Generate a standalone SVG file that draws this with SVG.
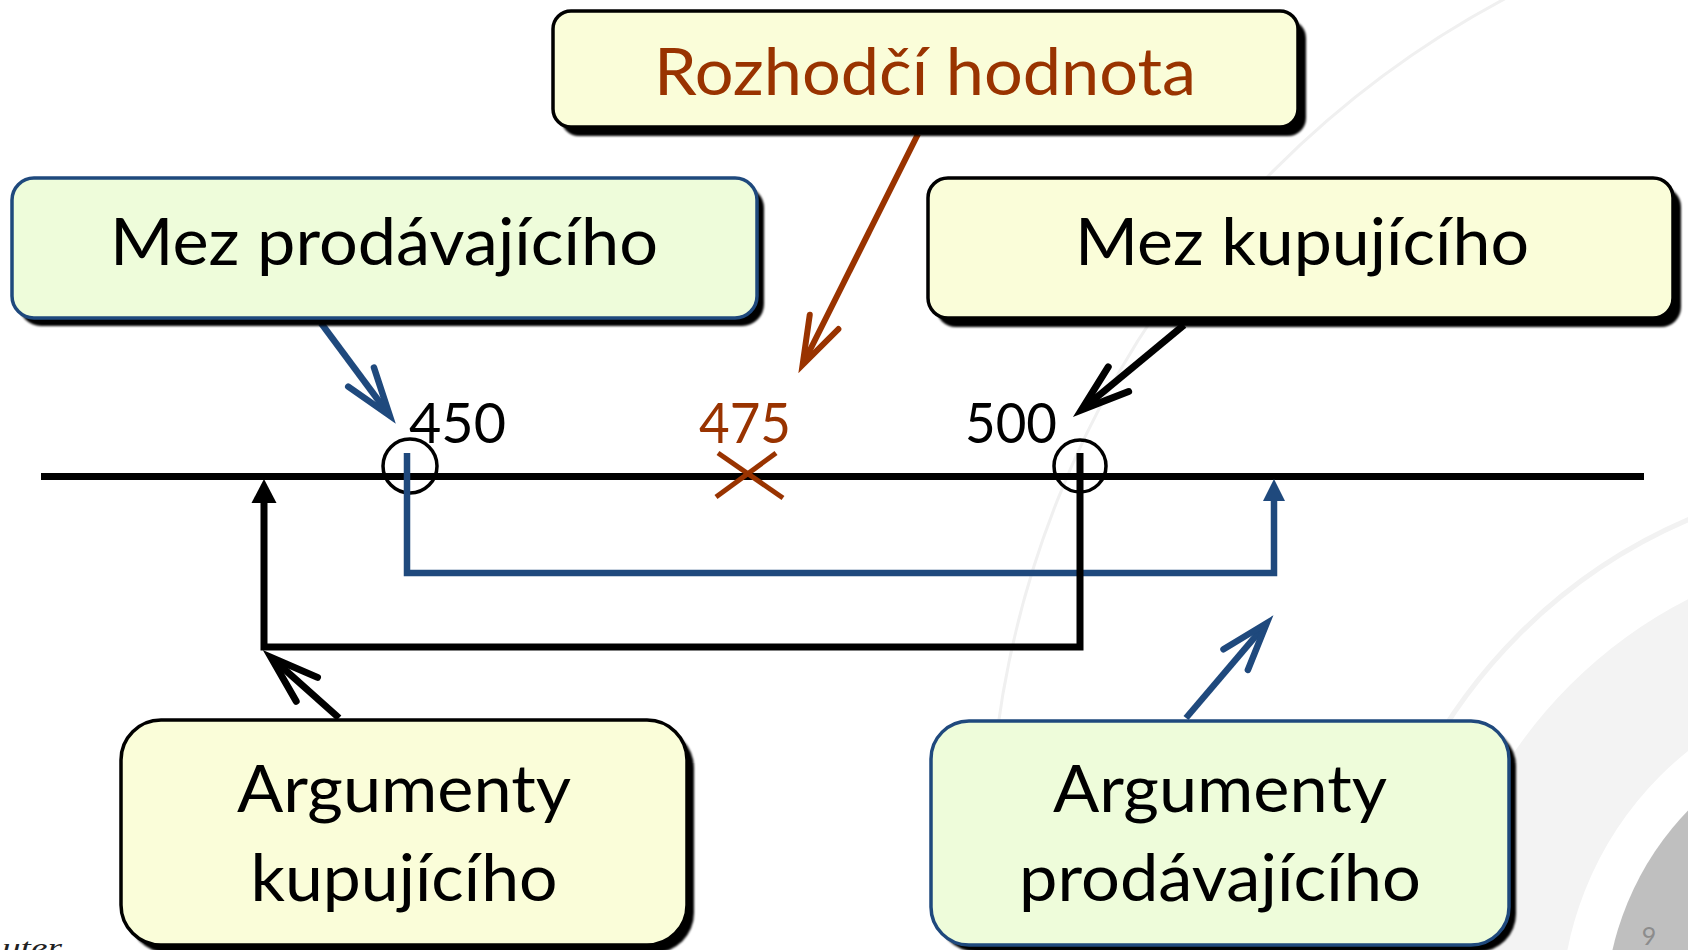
<svg xmlns="http://www.w3.org/2000/svg" width="1688" height="950" viewBox="0 0 1688 950">
<style>
  .t { font-family: "Lato", "Open Sans", "Liberation Sans", sans-serif; text-anchor: middle; }
  .big { font-size: 66px; fill: #000; }
  .num { font-size: 56px; text-anchor: start; }
  .red { fill: #993300; }
  .shadow { fill: #000; filter: url(#soft); }
  .yellow { fill: #fafdd9; stroke: #000; stroke-width: 3.5; }
  .green { fill: #eefcda; stroke: #1f497d; stroke-width: 3.5; }
  .conn { fill: none; stroke-linejoin: miter; }
</style>
<defs>
  <filter id="soft" x="-5%" y="-5%" width="110%" height="110%">
    <feGaussianBlur stdDeviation="1.2"/>
  </filter>
  <marker id="openBlue" markerUnits="userSpaceOnUse" viewBox="-60 -25 80 50" markerWidth="80" markerHeight="50" refX="0" refY="0" orient="auto" overflow="visible">
    <path d="M-46,-16 L2,0 L-46,16" fill="none" stroke="#1f497d" stroke-width="6.5" stroke-linecap="round" stroke-linejoin="miter"/>
  </marker>
  <marker id="openBlack" markerUnits="userSpaceOnUse" viewBox="-60 -25 80 50" markerWidth="80" markerHeight="50" refX="0" refY="0" orient="auto" overflow="visible">
    <path d="M-46,-16 L2,0 L-46,16" fill="none" stroke="#000" stroke-width="7" stroke-linecap="round" stroke-linejoin="miter"/>
  </marker>
  <marker id="openRed" markerUnits="userSpaceOnUse" viewBox="-60 -25 80 50" markerWidth="80" markerHeight="50" refX="0" refY="0" orient="auto" overflow="visible">
    <path d="M-46,-16 L2,0 L-46,16" fill="none" stroke="#993300" stroke-width="6" stroke-linecap="round" stroke-linejoin="miter"/>
  </marker>
  <marker id="triBlue" markerUnits="userSpaceOnUse" viewBox="-2 -13 26 26" markerWidth="26" markerHeight="26" refX="0" refY="0" orient="auto" overflow="visible">
    <path d="M22,0 L0,-11 L0,11 Z" fill="#1f497d"/>
  </marker>
  <marker id="triBlack" markerUnits="userSpaceOnUse" viewBox="-2 -14 28 28" markerWidth="28" markerHeight="28" refX="0" refY="0" orient="auto" overflow="visible">
    <path d="M24,0 L0,-12.5 L0,12.5 Z" fill="#000"/>
  </marker>
</defs>

<rect x="0" y="0" width="1688" height="950" fill="#ffffff"/>

<g id="background">
  <circle cx="1964" cy="859" r="975" fill="none" stroke="#f0f0f0" stroke-width="3"/>
  <circle cx="1901" cy="1016" r="540" fill="none" stroke="#f2f2f2" stroke-width="5"/>
  <circle cx="1901" cy="1016" r="404" fill="none" stroke="#f3f3f3" stroke-width="128"/>
  <circle cx="1901" cy="1016" r="296" fill="#bfbfbf"/>
  <text x="1649" y="945" font-family="Lato, 'Open Sans', sans-serif" font-size="25" fill="#8c8c8c" text-anchor="middle">9</text>
  <text x="2" y="956" font-family="'Liberation Serif', serif" font-style="italic" font-size="26" fill="#222" textLength="60" lengthAdjust="spacingAndGlyphs">uter</text>
</g>

<g id="axis">
  <line x1="41" y1="476.5" x2="1644" y2="476.5" stroke="#000" stroke-width="7"/>
  <circle cx="410" cy="466" r="27" fill="none" stroke="#000" stroke-width="3.5"/>
  <circle cx="1080" cy="466" r="26" fill="none" stroke="#000" stroke-width="3.5"/>
  <g id="cross475" stroke="#993300" stroke-width="5">
    <line x1="718" y1="453" x2="783" y2="498"/>
    <line x1="776" y1="453" x2="716" y2="497"/>
  </g>
  <text class="t num" x="409" y="443" textLength="97" lengthAdjust="spacingAndGlyphs">450</text>
  <text class="t num red" x="699" y="443" textLength="92" lengthAdjust="spacingAndGlyphs">475</text>
  <text class="t num" x="965" y="443" textLength="92" lengthAdjust="spacingAndGlyphs">500</text>
</g>

<g id="connectors">
  <path class="conn" d="M407,453 V573 H1274 V501" stroke="#1f497d" stroke-width="6.5" marker-end="url(#triBlue)"/>
  <path class="conn" d="M1080,453 V647 H264 V503" stroke="#000" stroke-width="7" marker-end="url(#triBlack)"/>
  <line x1="321" y1="323" x2="388.5" y2="414" stroke="#1f497d" stroke-width="6.5" marker-end="url(#openBlue)"/>
  <line x1="918" y1="134" x2="803.5" y2="363" stroke="#993300" stroke-width="6" marker-end="url(#openRed)"/>
  <line x1="1184" y1="325" x2="1083" y2="408.6" stroke="#000" stroke-width="7" marker-end="url(#openBlack)"/>
  <line x1="339" y1="718" x2="272.5" y2="658.7" stroke="#000" stroke-width="7" marker-end="url(#openBlack)"/>
  <line x1="1186" y1="718" x2="1265.5" y2="624.6" stroke="#1f497d" stroke-width="6.5" marker-end="url(#openBlue)"/>
</g>

<g id="node-rozhodci">
  <rect class="shadow" x="561" y="20" width="745" height="116" rx="18"/>
  <rect class="yellow" x="553" y="11" width="745" height="116" rx="18"/>
  <text class="t big red" x="925" y="95" textLength="542" lengthAdjust="spacingAndGlyphs">Rozhodčí hodnota</text>
</g>

<g id="node-mez-prodavajiciho">
  <rect class="shadow" x="19" y="186" width="745" height="140" rx="22"/>
  <rect class="green" x="12" y="178" width="745" height="140" rx="22"/>
  <text class="t big" x="384" y="265" textLength="548" lengthAdjust="spacingAndGlyphs">Mez prodávajícího</text>
</g>

<g id="node-mez-kupujiciho">
  <rect class="shadow" x="936" y="187" width="745" height="140" rx="20"/>
  <rect class="yellow" x="928" y="178" width="745" height="140" rx="20"/>
  <text class="t big" x="1302" y="265" textLength="454" lengthAdjust="spacingAndGlyphs">Mez kupujícího</text>
</g>

<g id="node-argumenty-kupujiciho">
  <rect class="shadow" x="128" y="728" width="566" height="225" rx="40"/>
  <rect class="yellow" x="121" y="720" width="566" height="225" rx="40"/>
  <text class="t big" x="404" y="812" textLength="334" lengthAdjust="spacingAndGlyphs">Argumenty</text>
  <text class="t big" x="404" y="901" textLength="307" lengthAdjust="spacingAndGlyphs">kupujícího</text>
</g>

<g id="node-argumenty-prodavajiciho">
  <rect class="shadow" x="938" y="728" width="578" height="224" rx="38"/>
  <rect class="green" x="931" y="721" width="578" height="224" rx="38"/>
  <text class="t big" x="1220" y="812" textLength="334" lengthAdjust="spacingAndGlyphs">Argumenty</text>
  <text class="t big" x="1220" y="901" textLength="402" lengthAdjust="spacingAndGlyphs">prodávajícího</text>
</g>
</svg>
